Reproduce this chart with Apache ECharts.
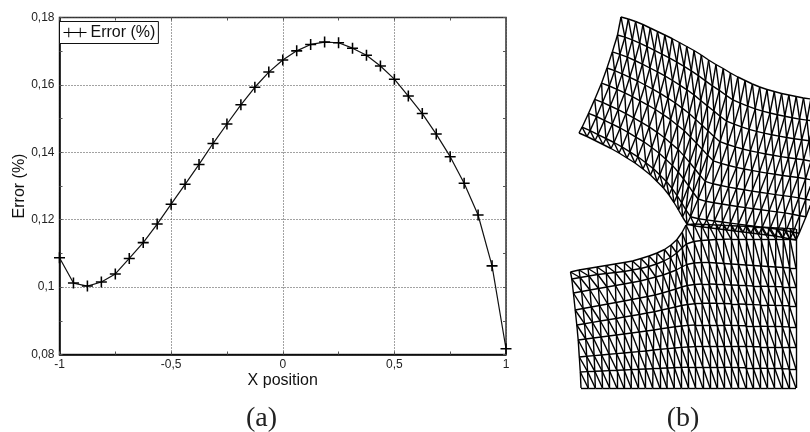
<!DOCTYPE html>
<html><head><meta charset="utf-8">
<style>html,body{margin:0;padding:0;background:#fff}#c{width:810px;height:432px}</style>
<script src="https://cdn.jsdelivr.net/npm/echarts@6/dist/echarts.min.js"></script>
</head><body><div id="c"></div>
<script>
const xPosition = [-1,-0.9375,-0.875,-0.8125,-0.75,-0.6875,-0.625,-0.5625,-0.5,-0.4375,-0.375,-0.3125,-0.25,-0.1875,-0.125,-0.0625,0,0.0625,0.125,0.1875,0.25,0.3125,0.375,0.4375,0.5,0.5625,0.625,0.6875,0.75,0.8125,0.875,0.9375,1];
const errorPct = [0.1087,0.1012,0.1003,0.1015,0.1039,0.1085,0.1132,0.1187,0.1246,0.1305,0.1364,0.1426,0.1484,0.1541,0.1593,0.1638,0.1674,0.1701,0.1720,0.1727,0.1725,0.1709,0.1688,0.1656,0.1617,0.1567,0.1515,0.1454,0.1387,0.1308,0.1214,0.1063,0.0817];

// Deformed mesh (b), nodes: one list per mesh row.
const upperX = [
[621,628.3,635.6,642.9,650.2,657.5,664.8,672,679.4,686.7,694,701.3,708.6,715.9,723.2,730.5,737.8,745.1,752.4,759.7,767,774.3,781.6,788.9,796.2,803.5,810.8,818,825,832,840],
[617.5,624.9,632.3,639.7,647.1,654.5,661.9,669.3,676.8,684.1,691.3,698.4,705.5,712.4,719.3,726.1,732.9,740.3,747.7,755.2,762.6,770,777.4,784.8,792.2,799.6,807,814.3,821.5,828.5,836.2],
[612.4,619.9,627.4,634.9,642.4,649.9,657.5,664.9,672.5,679.8,686.9,694,700.7,707.3,713.8,720.1,726.6,734.1,741.6,749.1,756.6,764.1,771.6,779.1,786.6,794.1,801.7,809.1,816.4,823.4,830.8],
[607,614.6,622.2,629.8,637.5,645.1,652.7,660.2,667.9,675.3,682.2,689.2,695.7,702,708,713.9,719.9,727.6,735.2,742.8,750.4,758,765.6,773.2,780.8,788.4,796,803.6,811,818,825.1],
[601.6,609.3,617,624.7,632.4,640.1,647.8,655.4,663.2,670.6,677.4,684.3,690.5,696.5,702.2,707.6,713.3,721,728.7,736.4,744.1,751.8,759.5,767.2,774.9,782.6,790.3,798,805.6,812.6,819.4],
[594.7,602.5,610.3,618.1,625.9,633.7,641.5,649.2,657.1,664.5,671.2,678,684,689.7,695,699.9,705.2,713,720.8,728.6,736.4,744.2,752,759.8,767.6,775.4,783.2,791,798.7,805.7,812.3],
[588.6,596.5,604.4,612.3,620.2,628,635.9,643.8,651.7,659.2,665.8,672.4,678.2,683.6,688.6,693.2,698.1,706,713.9,721.8,729.7,737.5,745.4,753.3,761.2,769.1,776.9,784.8,792.6,799.6,806],
[582.1,590.1,598,606,614,621.9,629.9,637.8,645.8,653.3,659.8,666.4,672,677.1,681.7,685.9,690.5,698.5,706.5,714.4,722.4,730.4,738.3,746.3,754.3,762.2,770.2,778.1,786.1,793.1,799.2],
[579,587,595,603,611,619,627,635,643,650.5,657,663.5,669,674,678.5,682.5,687,695,703,711,719,727,735,743,751,759,767,775,783,790,796]
];
const upperY = [
[17,19,21.5,24.5,28,31.5,35,38.5,42.5,46.5,50.5,55,60,64.5,68.5,73,77,80.5,84,87,89.5,91.5,93.5,95,96.5,98,99,100,101,102,103],
[35,37.2,39.9,43.1,46.7,50.3,54.1,57.8,62.1,66.4,70.8,75.6,80.9,85.9,90.4,95.3,99.8,103.1,106.2,108.9,111.1,113,114.8,116.2,117.7,119.1,120.1,121.1,122.2,123.2,124.2],
[51.8,54.3,57.2,60.5,64.2,68,71.9,75.9,80.5,85.1,89.8,94.9,100.5,105.9,111,116.2,121.1,124.2,126.9,129.3,131.4,133.1,134.8,136.1,137.5,138.8,139.8,140.8,142,143.1,144.1],
[68,70.7,73.9,77.3,81,85,89.1,93.3,98.2,103,108.1,113.5,119.4,125.2,130.8,136.4,141.7,144.5,146.9,149,150.9,152.4,154,155.3,156.6,157.8,158.8,159.8,161.1,162.3,163.3],
[83.1,86,89.3,92.9,96.7,100.8,105.1,109.5,114.6,119.7,125.2,130.8,137,143.2,149.2,155.1,160.8,163.4,165.5,167.4,169,170.4,171.9,173.1,174.3,175.5,176.5,177.5,178.8,180.1,181.1],
[99.4,102.4,106,109.7,113.6,117.8,122.3,126.9,132.3,137.7,143.5,149.4,155.9,162.5,169,175.2,181.4,183.8,185.5,187.1,188.5,189.8,191.1,192.3,193.4,194.6,195.6,196.6,197.9,199.3,200.3],
[113.3,116.5,120.3,124.1,128,132.3,137.1,141.8,147.5,153.2,159.2,165.4,172,179,185.9,192.5,199,201.3,202.7,204,205.3,206.5,207.6,208.7,209.8,210.9,211.9,212.9,214.3,215.7,216.7],
[127.2,130.6,134.6,138.5,142.5,146.9,151.9,156.8,162.7,168.6,175,181.4,188.3,195.6,202.9,209.8,216.7,218.7,219.9,221,222,223.1,224.1,225.2,226.2,227.2,228.2,229.2,230.7,232.2,233.2],
[133,136.5,140.5,144.5,148.5,153,158,163,169,175,181.5,188,195,202.5,210,217,224,226,227,228,229,230,231,232,233,234,235,236,237.5,239,240]
];
const lowerX = [
[570.5,579,588,597,606,615,624,632.5,641,649,657,664.5,671,677,682,686,693.5,701,708.5,716,723.5,731,738.5,746,753.5,761,768.5,776,783.5,790,796],
[571.8,580.1,588.9,597.7,606.4,615.2,624,632.3,640.7,648.6,656.5,663.9,670.5,676.7,681.9,686.3,693.8,701.2,708.7,716.1,723.6,731.1,738.5,746,753.5,760.9,768.4,775.8,783.3,789.9,796],
[573.4,581.6,590,598.5,607,615.5,624,632.1,640.3,648,655.8,663.2,669.9,676.2,681.8,686.7,694.1,701.5,709,716.3,723.8,731.2,738.6,746,753.4,760.8,768.2,775.6,783,789.7,796],
[575.2,583.1,591.3,599.5,607.7,615.9,624,631.9,639.8,647.4,655.1,662.4,669.2,675.7,681.7,687.2,694.5,701.9,709.2,716.5,723.9,731.3,738.6,746,753.3,760.7,768,775.4,782.7,789.5,796],
[576.8,584.5,592.4,600.3,608.2,616.1,624,631.7,639.4,646.9,654.4,661.7,668.6,675.3,681.6,687.6,694.8,702.1,709.5,716.7,724,731.4,738.6,745.9,753.3,760.6,767.9,775.2,782.5,789.3,796],
[578.2,585.7,593.3,601,608.7,616.4,624,631.6,639.1,646.4,653.9,661.1,668.1,675,681.6,687.9,695.1,702.4,709.7,716.9,724.2,731.4,738.6,745.9,753.2,760.5,767.7,775,782.3,789.2,796],
[579.3,586.7,594.1,601.6,609.1,616.6,624,631.4,638.8,646.1,653.4,660.6,667.6,674.6,681.5,688.2,695.3,702.6,709.8,717,724.3,731.5,738.7,745.9,753.2,760.4,767.6,774.8,782.1,789.1,796],
[580.3,587.6,594.8,602.1,609.4,616.8,624,631.3,638.6,645.7,653,660.2,667.3,674.4,681.4,688.4,695.5,702.8,710,717.1,724.3,731.6,738.7,745.9,753.1,760.3,767.5,774.7,781.9,789,796],
[581,588.2,595.3,602.5,609.7,616.9,624,631.2,638.4,645.5,652.7,659.9,667,674.2,681.4,688.6,695.7,702.9,710.1,717.2,724.4,731.6,738.7,745.9,753.1,760.3,767.4,774.6,781.8,788.9,796]
];
const lowerY = [
[272,270,268.5,267,265.5,264,262.5,261,258.5,256,253,249.5,245,239.5,232.5,225,224,224.3,224.6,225,225.3,225.7,226,226.4,226.8,227.1,227.5,227.9,228.3,228.6,229],
[279,277.5,276,274.5,273.5,272.5,271.5,270,268.5,266.5,264,261,257.5,253,248,244,241.5,240.5,240,239.5,239.3,239.1,239,239,239,239,239,239,239,239,239],
[293,291.5,290,288.5,287,285.5,284,282.5,281,279,277,275,272.5,270,267,264.5,263,262.5,262.5,263,263.5,264,264.5,265,265.5,266,266.5,267,267.5,267.8,268],
[310,308.5,307,305.5,304,302.5,301,299.5,298,296.5,295,293,291,289,287,285.5,284.5,284,284,284.3,284.6,285,285.3,285.6,286,286.2,286.4,286.6,286.8,287,287],
[325,323.7,322.4,321,319.8,318.5,317,315.8,314.5,313,311.8,310,308.5,307,305.5,304.5,303.7,303.3,303.2,303.3,303.5,303.8,304,304.3,304.6,304.9,305.2,305.4,305.6,305.8,306],
[340,339,338,337,336,335,334,333,332,331,330,328.8,327.8,326.8,326,325.4,325,324.8,324.8,325,325.2,325.4,325.6,325.8,326,326.2,326.4,326.5,326.7,326.9,327],
[357,356.3,355.6,355,354.3,353.6,353,352.3,351.6,351,350,349.3,348.6,348,347.4,347,346.6,346.4,346.3,346.3,346.4,346.5,346.6,346.6,346.7,346.8,346.8,346.9,346.9,347,347],
[372,371.6,371.3,371,370.6,370.3,370,369.6,369.3,369,368.7,368.3,368,367.7,367.4,367.2,367,367,367,367.1,367.2,367.4,367.6,367.8,368,368.2,368.4,368.5,368.7,368.9,369],
[388,388,388,388,388,388,388,388,388,388,388,388,388,388,388,388,388,388,388,388,388,388,388,388,388,388,388,388,388,388,388]
];

function meshSegments(X, Y) {
  const segs = [];
  const node = (r, j) => [X[r][j], Y[r][j]];
  for (let r = 0; r < X.length; r++) {
    for (let j = 0; j < X[r].length; j++) {
      if (j + 1 < X[r].length) segs.push({coords: [node(r, j), node(r, j + 1)]});
      if (r + 1 < X.length) segs.push({coords: [node(r, j), node(r + 1, j)]});
      if (r + 1 < X.length && j + 1 < X[r].length) segs.push({coords: [node(r, j), node(r + 1, j + 1)]});
    }
  }
  return segs;
}

const comma = v => String(+v.toFixed(4)).replace('.', ',');
const plus = 'path://M4.3 0H5.7V4.3H10V5.7H5.7V10H4.3V5.7H0V4.3H4.3Z';
const legendIcon = 'path://M0 4.6H5V0H6V4.6H17V0H18V4.6H24V5.4H18V10H17V5.4H6V10H5V5.4H0Z';
const fontFamily = '"Liberation Sans", Arial, sans-serif';
const mirror = {
  show: true, axisLine: {show: false, onZero: false},
  axisTick: {inside: true, length: 3, lineStyle: {color: '#555'}},
  minorTick: {show: true, splitNumber: 2, length: 3, lineStyle: {color: '#555'}},
  axisLabel: {show: false}, splitLine: {show: false}
};
const hidden = {type: 'value', gridIndex: 1, show: false};
const captionStyle = {fontFamily: '"Liberation Serif", serif', fontSize: 28, fontWeight: 'normal', color: '#222'};

const chart = echarts.init(document.getElementById('c'), null, {renderer: 'canvas'});
chart.setOption({
  animation: false,
  backgroundColor: '#fff',
  title: [
    {text: '(a)', left: 256.5, top: 414, textAlign: 'center', textVerticalAlign: 'middle', textStyle: captionStyle},
    {text: '(b)', left: 678, top: 414, textAlign: 'center', textVerticalAlign: 'middle', textStyle: captionStyle}
  ],
  legend: {
    data: [{name: 'Error (%)', icon: legendIcon}],
    left: 59.5, top: 21.5, orient: 'horizontal', selectedMode: false,
    itemWidth: 23, itemHeight: 10, itemGap: 0, padding: [3, 3, 3, 4],
    backgroundColor: '#fff', borderColor: '#111', borderWidth: 1,
    textStyle: {fontFamily, fontSize: 16, color: '#111', padding: [0, 0, 0, -1]}
  },
  grid: [
    {left: 59.5, top: 17.5, width: 446.5, height: 337, show: true, borderColor: '#333', borderWidth: 1.5, backgroundColor: 'transparent', outerBoundsMode: 'none'},
    {left: 560, top: 0, width: 250, height: 432, outerBoundsMode: 'none'}
  ],
  xAxis: [
    {type: 'value', gridIndex: 0, min: -1, max: 1, interval: 0.5, position: 'bottom',
     name: 'X position', nameLocation: 'middle', nameGap: 18.5, nameMoveOverlap: false,
     nameTextStyle: {fontFamily, fontSize: 16, color: '#111'},
     axisLine: {show: true, onZero: false, lineStyle: {color: '#000', width: 1.5}},
     axisTick: {inside: true, length: 3, lineStyle: {color: '#555'}},
     minorTick: {show: true, splitNumber: 2, length: 3, lineStyle: {color: '#555'}},
     axisLabel: {formatter: comma, fontFamily, fontSize: 12, color: '#222', margin: 4, hideOverlap: false, showMinLabel: true, showMaxLabel: true},
     splitLine: {show: true, lineStyle: {type: [1, 2], color: '#444', width: 1}}},
    Object.assign({type: 'value', gridIndex: 0, min: -1, max: 1, interval: 0.5, position: 'top'}, mirror),
    Object.assign({min: 560, max: 810}, hidden)
  ],
  yAxis: [
    {type: 'value', gridIndex: 0, min: 0.08, max: 0.18, interval: 0.02, position: 'left',
     name: 'Error (%)', nameLocation: 'middle', nameGap: 32, nameRotate: 90, nameMoveOverlap: false,
     nameTextStyle: {fontFamily, fontSize: 16, color: '#111'},
     axisLine: {show: true, onZero: false, lineStyle: {color: '#000', width: 1.5}},
     axisTick: {inside: true, length: 3, lineStyle: {color: '#555'}},
     minorTick: {show: true, splitNumber: 2, length: 3, lineStyle: {color: '#555'}},
     axisLabel: {formatter: comma, fontFamily, fontSize: 12, color: '#222', margin: 5, showMinLabel: true, showMaxLabel: true},
     splitLine: {show: true, lineStyle: {type: [1, 2], color: '#444', width: 1}}},
    Object.assign({type: 'value', gridIndex: 0, min: 0.08, max: 0.18, interval: 0.02, position: 'right'}, mirror),
    Object.assign({min: 0, max: 432, inverse: true}, hidden)
  ],
  series: [
    {name: 'Error (%)', type: 'line', xAxisIndex: 0, yAxisIndex: 0,
     data: xPosition.map((x, i) => [x, errorPct[i]]),
     symbol: plus, symbolSize: 11, showAllSymbol: true, clip: false,
     lineStyle: {color: '#111', width: 1.2}, itemStyle: {color: '#000', borderWidth: 0},
     emphasis: {disabled: true}, z: 5},
    {name: 'Upper mesh', type: 'lines', coordinateSystem: 'cartesian2d', xAxisIndex: 2, yAxisIndex: 2,
     data: meshSegments(upperX, upperY), lineStyle: {color: '#000', width: 1.4, opacity: 1}, silent: true, large: false},
    {name: 'Lower mesh', type: 'lines', coordinateSystem: 'cartesian2d', xAxisIndex: 2, yAxisIndex: 2,
     data: meshSegments(lowerX, lowerY), lineStyle: {color: '#000', width: 1.4, opacity: 1}, silent: true, large: false}
  ]
});
</script></body></html>
